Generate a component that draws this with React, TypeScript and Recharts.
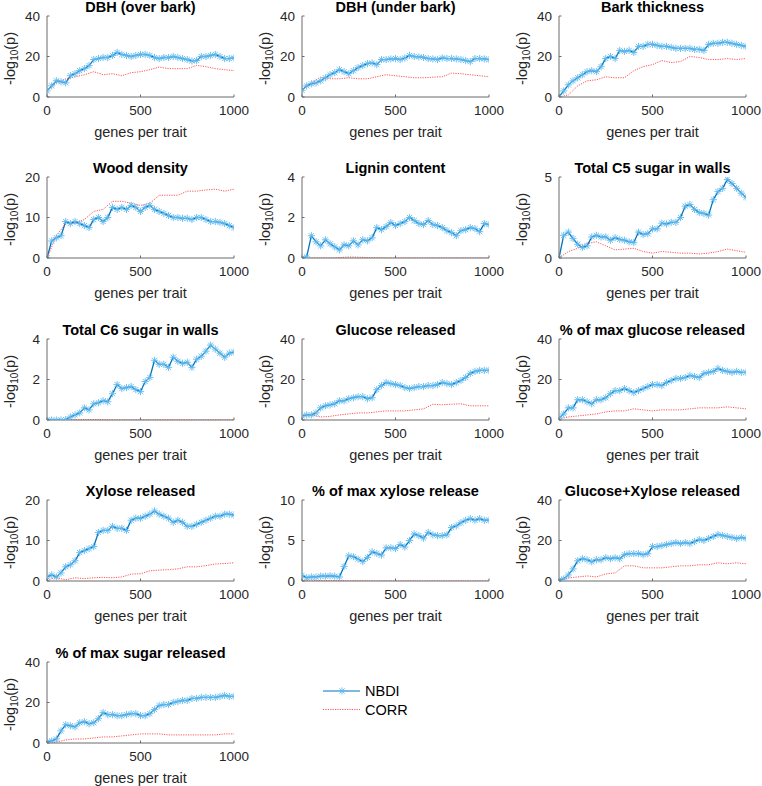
import { Line, LineChart, XAxis, YAxis } from "recharts";

// x positions (genes per trait)
const GENES_25 = [
  0, 25, 50, 75, 100, 125, 150, 175, 200, 225, 250, 275, 300, 325, 350, 375, 400, 425, 450, 475, 500,
  525, 550, 575, 600, 625, 650, 675, 700, 725, 750, 775, 800, 825, 850, 875, 900, 925, 950, 975, 1000,
];
const GENES_50 = [0, 50, 100, 150, 200, 250, 300, 350, 400, 450, 500, 550, 600, 650, 700, 750, 800, 850, 900, 950, 1000];
const X_TICKS = [0, 500, 1000];

// NBDI series (every 25 genes)
const dbhOverNbdi = [3, 5.5, 8, 7.5, 7, 10.5, 11.5, 13, 14, 15.5, 18.5, 19, 19.5, 19.5, 20.5, 22, 21, 20.5, 20, 20.5, 21, 21, 20.5, 19.5, 19, 19.5, 19.5, 20, 19.5, 19, 18.5, 17.8, 18, 20, 20, 20.5, 21, 20, 19, 19, 19.3];
const dbhUnderNbdi = [3.3, 5.5, 6.5, 7, 8, 9.5, 11, 12, 13.5, 12.5, 11.5, 13, 14.5, 15.5, 16.5, 16.8, 16, 18.5, 18.5, 18.8, 19, 18.5, 19.2, 20.5, 20, 19.8, 19.5, 19, 18.8, 18.5, 19.3, 19, 19, 18.8, 18.5, 18, 17.5, 19, 19, 18.8, 18.5];
const barkNbdi = [0, 3, 6, 8, 9.5, 11, 12.5, 13, 12.5, 15, 19, 20, 19, 23, 22.5, 23, 22, 25, 25, 26, 26, 25.5, 25, 25, 24.5, 24, 24, 24, 24, 23.5, 23.5, 23, 26, 26.5, 26.5, 27, 27, 26.5, 26, 25.5, 25];
const woodNbdi = [0, 4.2, 5, 5.5, 9, 8.5, 9, 8.5, 8, 7.5, 9.5, 10, 9, 10, 12.5, 12, 12.5, 12, 13, 12.5, 11.5, 12.5, 13, 12, 11.5, 11, 10.5, 10, 10, 9.8, 9.8, 9.5, 10, 10, 9.5, 9, 9, 8.8, 8.5, 8, 7.5];
const ligninNbdi = [0, 0.05, 1.1, 0.8, 0.6, 0.9, 0.7, 0.55, 0.4, 0.65, 0.6, 0.85, 0.65, 0.9, 0.85, 1.0, 1.5, 1.4, 1.55, 1.75, 1.6, 1.7, 1.8, 2.0, 1.85, 1.7, 1.65, 1.85, 1.65, 1.6, 1.5, 1.35, 1.25, 1.1, 1.35, 1.4, 1.5, 1.45, 1.3, 1.7, 1.65];
const c5Nbdi = [0, 1.4, 1.6, 1.2, 0.85, 0.65, 0.75, 1.3, 1.4, 1.3, 1.3, 1.1, 1.25, 1.15, 1.1, 1.0, 0.95, 1.6, 1.45, 1.5, 1.8, 1.8, 2.15, 2.1, 2.2, 2.2, 2.5, 3.2, 3.3, 3.0, 2.8, 2.75, 2.65, 3.6, 4.1, 4.3, 4.85, 4.6, 4.3, 4.0, 3.75];
const c6Nbdi = [0, 0, 0, 0, 0.02, 0.15, 0.25, 0.35, 0.6, 0.5, 0.8, 0.85, 0.95, 0.9, 1.3, 1.75, 1.55, 1.6, 1.65, 1.5, 1.4, 1.9, 2.1, 2.95, 2.75, 2.75, 2.6, 3.1, 2.9, 2.8, 2.85, 2.6, 3.0, 3.15, 3.4, 3.7, 3.5, 3.3, 3.1, 3.3, 3.35];
const glucoseNbdi = [2, 2.5, 2.5, 3.5, 6, 7, 7.5, 8, 9.5, 9.5, 10.5, 11, 11.5, 11.5, 10.5, 11, 15, 17, 18.5, 18, 17.5, 17, 16, 15.5, 16, 16.5, 16.5, 17, 17, 17.5, 18.5, 18, 17.5, 18.5, 19.5, 21, 23, 24, 24.5, 24.5, 24.5];
const maxGlucoseNbdi = [1, 3, 6, 6, 10, 10, 9, 8, 10, 10, 11, 13, 14.5, 14.5, 15.5, 14.5, 13.5, 14.5, 15.5, 16.5, 17.5, 17.5, 17, 18.5, 19.5, 20.5, 20.5, 21, 22, 21.5, 21, 23, 23.5, 24, 25.5, 24.5, 24, 23.5, 24, 23.5, 23.5];
const xyloseNbdi = [1, 1.5, 1, 2, 3.5, 4, 5, 7, 7.5, 8, 8.5, 12, 12.5, 12.5, 13.5, 13, 13, 12.5, 15, 15.5, 15.5, 16, 16.5, 17.3, 16.5, 16, 15.5, 14.5, 15, 14.5, 13.5, 13.5, 14, 14.5, 15, 15.5, 16, 16, 16.5, 16.5, 16.3];
const maxXyloseNbdi = [0.7, 0.4, 0.5, 0.5, 0.6, 0.6, 0.65, 0.6, 0.5, 1.8, 3.1, 3.0, 2.7, 2.4, 2.9, 3.6, 3.4, 3.2, 4.1, 4.1, 4.0, 4.5, 4.2, 5.0, 5.8, 5.6, 5.3, 6.0, 5.7, 5.6, 5.6, 5.7, 6.6, 6.8, 7.2, 7.5, 7.7, 7.5, 7.7, 7.5, 7.5];
const gluXylNbdi = [0.5, 1, 3, 6, 10, 11, 10.5, 9.5, 10.5, 10.5, 11.5, 11, 11.5, 11, 13, 13.5, 13.5, 13.5, 13, 13.5, 17, 17, 17.5, 18, 18.5, 19, 18.5, 19, 18.5, 19.5, 20.5, 20, 21, 22, 23, 22.5, 22, 21.5, 21, 21.5, 21];
const maxSugarNbdi = [0.5, 1, 2, 6, 9, 8.5, 8, 10, 10.5, 9.5, 10, 12, 15, 14, 14, 13.5, 13.5, 14, 14.5, 14.5, 13.5, 13.5, 14.5, 16.5, 18.5, 19, 19, 20, 20.5, 21, 21, 22, 22, 22.5, 22.5, 22.5, 22.5, 23, 23.5, 23, 23];

// CORR series (every 50 genes)
const dbhOverCorr = [3, 7, 9, 10, 11, 12.5, 11, 11.5, 10.5, 12, 12.5, 13.5, 14.8, 14, 14, 14, 15.6, 15, 14, 13.5, 13];
const dbhUnderCorr = [4, 7, 9.8, 9, 9, 9.5, 9, 9, 10, 11, 10.5, 10, 9.5, 9.5, 9.8, 10, 11.8, 11.5, 11, 10.5, 10];
const barkCorr = [0, 1, 5.5, 8, 8.5, 10, 9.5, 9.5, 13, 15, 16, 18, 17, 17.5, 20, 19.5, 18.5, 18.5, 19, 18.5, 19];
const woodCorr = [0, 5.5, 8.5, 8.5, 9.5, 11.5, 12, 14, 14, 13.5, 13, 13.5, 15.5, 15.5, 15.5, 16.5, 16.5, 16.8, 17, 16.5, 17];
const ligninCorr = [0, 0, 0, 0, 0.02, 0.05, 0.04, 0.02, 0.01, 0, 0, 0, 0, 0, 0, 0, 0, 0, 0, 0, 0];
const c5Corr = [0, 0.4, 0.6, 0.9, 1.0, 0.75, 0.5, 0.55, 0.6, 0.4, 0.3, 0.4, 0.35, 0.3, 0.3, 0.25, 0.3, 0.4, 0.55, 0.45, 0.35];
const c6Corr = [0, 0, 0.01, 0.02, 0.02, 0.02, 0.02, 0.01, 0.01, 0.01, 0.01, 0.01, 0.01, 0.01, 0.01, 0.01, 0.01, 0.01, 0.01, 0.01, 0.01];
const glucoseCorr = [2, 2.5, 1.5, 1.8, 2.5, 3, 3.5, 3.5, 4, 4.5, 4.5, 4.5, 5, 5.5, 7.8, 7.5, 7.8, 8, 7, 7, 7];
const maxGlucoseCorr = [0.5, 1.5, 2, 2.5, 3, 4, 4.5, 4.5, 5.5, 5, 4.5, 5, 5, 5, 5.5, 6, 6, 6, 6.5, 6, 5.5];
const xyloseCorr = [0.3, 0.8, 0.3, 0.8, 0.6, 0.8, 0.9, 0.8, 1, 1.7, 1.8, 2.5, 2.7, 2.8, 3, 3.5, 3.5, 3.8, 4.2, 4.3, 4.5];
const maxXyloseCorr = [0.1, 0.1, 0.05, 0.05, 0.05, 0.02, 0.02, 0.01, 0, 0, 0, 0, 0, 0, 0, 0, 0, 0, 0, 0, 0];
const gluXylCorr = [0.5, 1.5, 2, 2.5, 2, 3.5, 4, 7.5, 7.5, 6.5, 6.5, 6.5, 7, 7.5, 7.5, 8, 8, 9, 8.5, 9, 8.5];
const maxSugarCorr = [0, 0.5, 1.5, 2, 2, 2.5, 3, 3, 3.5, 4, 4.5, 4.5, 4.5, 4, 4, 4, 4, 4, 4, 4.5, 4.5];

const TITLES = [
  "DBH (over bark)", "DBH (under bark)", "Bark thickness",
  "Wood density", "Lignin content", "Total C5 sugar in walls",
  "Total C6 sugar in walls", "Glucose released", "% of max glucose released",
  "Xylose released", "% of max xylose release", "Glucose+Xylose released",
  "% of max sugar released",
];
const Y_TICKS = [
  [0, 20, 40], [0, 20, 40], [0, 20, 40],
  [0, 10, 20], [0, 2, 4], [0, 5],
  [0, 2, 4], [0, 20, 40], [0, 20, 40],
  [0, 10, 20], [0, 5, 10], [0, 20, 40],
  [0, 20, 40],
];
const NBDI = [dbhOverNbdi, dbhUnderNbdi, barkNbdi, woodNbdi, ligninNbdi, c5Nbdi, c6Nbdi, glucoseNbdi, maxGlucoseNbdi, xyloseNbdi, maxXyloseNbdi, gluXylNbdi, maxSugarNbdi];
const CORR = [dbhOverCorr, dbhUnderCorr, barkCorr, woodCorr, ligninCorr, c5Corr, c6Corr, glucoseCorr, maxGlucoseCorr, xyloseCorr, maxXyloseCorr, gluXylCorr, maxSugarCorr];

const COL_LEFT = [47, 302, 559];
const ROW_TOP = [16, 177, 339, 500, 662];
const PLOT_W = 187;
const PLOT_H = 81;
const M_LEFT = 47;
const M_TOP = 18;
const M_RIGHT = 16;
const X_AXIS_H = 46;

const FONT = "'Liberation Sans', Arial, sans-serif";
const TXT = "#262626";
const AXIS = "#6b6b6b";
const BLUE = "#0072BD";
const LIGHT_BLUE = "#5DB9EE";
const RED = "#FF2A2A";

function Asterisk(props: any) {
  const { cx, cy } = props;
  if (cx == null || cy == null) return <g />;
  const r = 3.6;
  const d = 2.6;
  return (
    <g stroke={LIGHT_BLUE} strokeWidth={0.9}>
      <line x1={cx - r} x2={cx + r} y1={cy} y2={cy} />
      <line x1={cx} x2={cx} y1={cy - r} y2={cy + r} />
      <line x1={cx - d} x2={cx + d} y1={cy - d} y2={cy + d} />
      <line x1={cx - d} x2={cx + d} y1={cy + d} y2={cy - d} />
    </g>
  );
}

function YTick(props: any) {
  const { y, payload } = props;
  return (
    <g>
      <line x1={M_LEFT} x2={M_LEFT + 2.5} y1={y} y2={y} stroke={AXIS} />
      <text x={M_LEFT - 7} y={y} textAnchor="end" dominantBaseline="central" fontSize={13.5} fontFamily={FONT} fill={TXT}>
        {payload.value}
      </text>
    </g>
  );
}

function XTick(props: any) {
  const { x, payload } = props;
  const yb = M_TOP + PLOT_H;
  return (
    <g>
      <line x1={x} x2={x} y1={yb} y2={yb - 2.5} stroke={AXIS} />
      <text x={x} y={yb + 13} textAnchor="middle" dominantBaseline="central" fontSize={13.5} fontFamily={FONT} fill={TXT}>
        {payload.value}
      </text>
    </g>
  );
}

const yLabel = () => (
  <text
    transform={`translate(${M_LEFT - 37}, ${M_TOP + PLOT_H / 2 + 2}) rotate(-90)`}
    textAnchor="middle"
    dominantBaseline="central"
    fontSize={14.5}
    fontFamily={FONT}
    fill={TXT}
  >
    -log<tspan fontSize={10} dy={4}>10</tspan>
    <tspan dy={-4}>(p)</tspan>
  </text>
);

const xLabel = () => (
  <text x={M_LEFT + PLOT_W / 2} y={M_TOP + PLOT_H + 35} textAnchor="middle" dominantBaseline="central" fontSize={14.5} fontFamily={FONT} fill={TXT}>
    genes per trait
  </text>
);

function Panel({ index }: { index: number }) {
  const col = index % 3;
  const row = Math.floor(index / 3);
  const ticks = Y_TICKS[index];
  const yMax = ticks[ticks.length - 1];
  const nbdiData = GENES_25.map((g, i) => ({ g, v: NBDI[index][i] }));
  const corrData = GENES_50.map((g, i) => ({ g, v: CORR[index][i] }));
  return (
    <div style={{ position: "absolute", left: COL_LEFT[col] - M_LEFT, top: ROW_TOP[row] - M_TOP }}>
      <div
        style={{
          position: "absolute",
          left: M_LEFT - 20,
          width: PLOT_W + 40,
          top: M_TOP - 18,
          height: 18,
          lineHeight: "18px",
          textAlign: "center",
          fontFamily: FONT,
          fontWeight: "bold",
          fontSize: 14.5,
          color: "#000",
          whiteSpace: "nowrap",
        }}
      >
        {TITLES[index]}
      </div>
      <LineChart width={M_LEFT + PLOT_W + M_RIGHT} height={M_TOP + PLOT_H + X_AXIS_H} margin={{ top: M_TOP, right: M_RIGHT, bottom: 0, left: 0 }}>
        <XAxis
          dataKey="g"
          type="number"
          domain={[0, 1000]}
          ticks={X_TICKS}
          height={X_AXIS_H}
          axisLine={{ stroke: AXIS }}
          tickLine={false}
          tickSize={0}
          tick={<XTick />}
          label={xLabel}
          allowDataOverflow
        />
        <YAxis
          type="number"
          domain={[0, yMax]}
          ticks={ticks}
          width={M_LEFT}
          axisLine={{ stroke: AXIS }}
          tickLine={false}
          tickSize={0}
          tick={<YTick />}
          label={yLabel}
          allowDataOverflow
        />
        <Line data={nbdiData} dataKey="v" stroke="none" dot={<Asterisk />} activeDot={false} isAnimationActive={false} />
        <Line data={nbdiData} dataKey="v" stroke={BLUE} strokeWidth={1.3} dot={false} activeDot={false} isAnimationActive={false} />
        <Line data={corrData} dataKey="v" stroke={RED} strokeWidth={0.8} strokeDasharray="1.2 1.2" dot={false} activeDot={false} isAnimationActive={false} />
      </LineChart>
    </div>
  );
}

function Legend() {
  return (
    <svg style={{ position: "absolute", left: 0, top: 0 }} width={762} height={786}>
      <line x1={323} x2={360} y1={691} y2={691} stroke={BLUE} strokeWidth={1} />
      <Asterisk cx={342} cy={691} />
      <text x={365} y={691} dominantBaseline="central" fontSize={14.5} fontFamily={FONT} fill="#000">NBDI</text>
      <line x1={323} x2={360} y1={709.5} y2={709.5} stroke={RED} strokeWidth={0.8} strokeDasharray="1.2 1.2" />
      <text x={365} y={709.5} dominantBaseline="central" fontSize={14.5} fontFamily={FONT} fill="#000">CORR</text>
    </svg>
  );
}

export default function App() {
  return (
    <div style={{ position: "absolute", left: 0, top: 0, width: 762, height: 786, background: "#fff", overflow: "hidden" }}>
      {TITLES.map((_, i) => (
        <Panel key={i} index={i} />
      ))}
      <Legend />
    </div>
  );
}
